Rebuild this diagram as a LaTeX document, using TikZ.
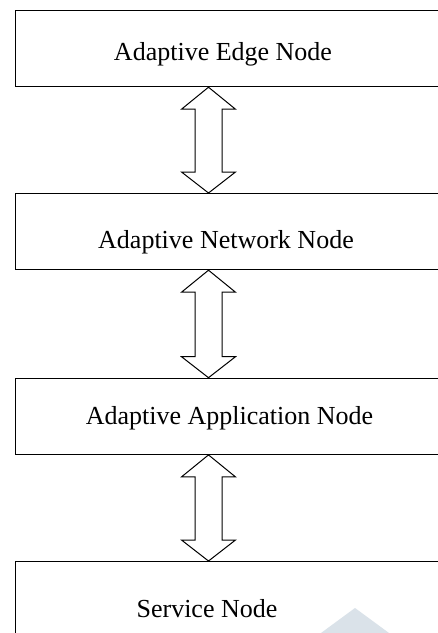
\documentclass[tikz,border=0pt]{standalone}
\usepackage{fontspec}
\setmainfont{Liberation Serif}
\usetikzlibrary{calc}
\definecolor{wmcol}{RGB}{218,226,233}
\tikzset{
  layerbox/.style={draw=black, line width=1.2pt, fill=white, rectangle, minimum width=460pt, inner sep=0pt},
  lbl/.style={anchor=base, inner sep=0pt, font=\fontsize{26}{30}\selectfont},
  bigarrow/.style={draw=black, line width=1pt, fill=white, line join=miter}
}
\newcommand\bidiarrow[2]{%
  \coordinate (T) at (ax |- #1.south);
  \coordinate (B) at (ax |- #2.north);
  \draw[bigarrow] (T) -- ($(T)+(27,22)$) -- ($(T)+(13.5,22)$) -- ($(B)+(13.5,-21)$)
    -- ($(B)+(27,-21)$) -- (B) -- ($(B)+(-27,-21)$) -- ($(B)+(-13.5,-21)$)
    -- ($(T)+(-13.5,22)$) -- ($(T)+(-27,22)$) -- cycle;
}
\begin{document}
\begin{tikzpicture}[x=1pt,y=-1pt]
\useasboundingbox (0,0) rectangle (438,633);
\clip (0,0) rectangle (438,633);
\fill[white] (0,0) rectangle (438,633);
\coordinate (ax) at (208.5,0);
% boxes
\node[layerbox, anchor=north west, minimum height=76pt] (edge) at (15,10) {};
\node[layerbox, anchor=north west, minimum height=76pt] (net) at (15,193) {};
\node[layerbox, anchor=north west, minimum height=76pt] (app) at (15,377.7) {};
\node[layerbox, anchor=north west, minimum height=110pt] (svc) at (15,561) {};
% labels
\node[lbl] (tedge) at (223,60.3) {Adaptive Edge Node};
\node[lbl] (tnet) at (226,248.3) {Adaptive Network Node};
\node[lbl] (tapp) at (229.5,424.3) {Adaptive Application Node};
\node[lbl] (tsvc) at (207,617.7) {Service Node};
% arrows
\bidiarrow{edge}{net}
\bidiarrow{net}{app}
\bidiarrow{app}{svc}
% watermark fragment
\fill[wmcol] (355,608) -- (389,633) -- (321,633) -- cycle;
\end{tikzpicture}
\end{document}
